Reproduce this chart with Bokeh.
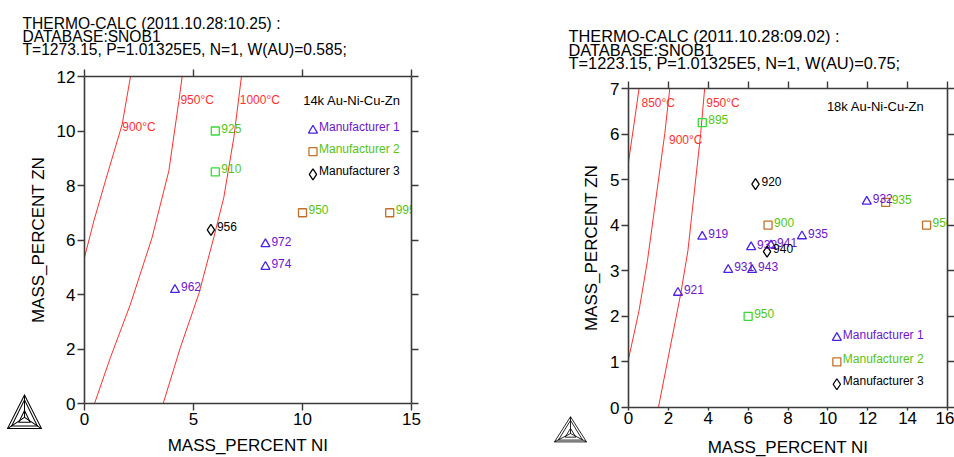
from bokeh.plotting import figure
from bokeh.models import (Range1d, LinearAxis, FixedTicker, Label, ColumnDataSource,
                          Title, Div, Spacer)
from bokeh.layouts import row, column
from bokeh.core.properties import value
from bokeh.embed import file_html
from bokeh.resources import INLINE

# ---------------- data: left panel (14k) ----------------
L_TITLE = ["THERMO-CALC (2011.10.28:10.25) :", "DATABASE:SNOB1",
           "T=1273.15, P=1.01325E5, N=1, W(AU)=0.585;"]
L_X_TICKS = [0, 5, 10, 15]
L_Y_TICKS = [0, 2, 4, 6, 8, 10, 12]
L_M1_NI = [4.15, 8.3, 8.3]
L_M1_ZN = [4.17, 5.85, 5.02]
L_M1_LBL = ["962", "972", "974"]
L_M2_NI = [6.0, 6.0, 10.0, 14.0]
L_M2_ZN = [10.0, 8.5, 7.0, 7.0]
L_M2_LBL = ["925", "910", "950", "995"]
L_M3_NI = [5.8]
L_M3_ZN = [6.37]
L_M3_LBL = ["956"]
L_ISO_LBL = ["900°C", "950°C", "1000°C"]
L_ISO900_NI = [0.0, 0.43, 0.96, 1.73, 2.11]
L_ISO900_ZN = [5.36, 6.7, 8.17, 10.25, 12.0]
L_ISO950_NI = [0.46, 1.19, 2.11, 3.10, 3.87, 4.33, 4.48]
L_ISO950_ZN = [0.0, 1.69, 3.65, 6.09, 8.54, 11.11, 12.0]
L_ISO1000_NI = [3.61, 4.40, 5.24, 5.93, 6.39, 6.85, 7.2]
L_ISO1000_ZN = [0.0, 2.06, 4.01, 6.09, 7.56, 9.76, 12.0]

# ---------------- data: right panel (18k) ----------------
R_TITLE = ["THERMO-CALC (2011.10.28:09.02) :", "DATABASE:SNOB1",
           "T=1223.15, P=1.01325E5, N=1, W(AU)=0.75;"]
R_X_TICKS = [0, 2, 4, 6, 8, 10, 12, 14, 16]
R_Y_TICKS = [0, 1, 2, 3, 4, 5, 6, 7]
R_M1_NI = [3.7, 6.15, 7.15, 8.7, 11.95, 5.0, 6.2, 2.48]
R_M1_ZN = [3.75, 3.52, 3.56, 3.76, 4.52, 3.02, 3.02, 2.52]
R_M1_LBL = ["919", "932", "941", "935", "932", "931", "943", "921"]
R_M2_NI = [3.7, 7.0, 12.9, 14.95, 6.0]
R_M2_ZN = [6.25, 4.0, 4.5, 4.0, 2.0]
R_M2_LBL = ["895", "900", "935", "950", "950"]
R_M3_NI = [6.37, 6.95]
R_M3_ZN = [4.9, 3.42]
R_M3_LBL = ["920", "940"]
R_ISO_LBL = ["850°C", "900°C", "950°C"]
R_ISO850_NI = [0.0, 0.27, 0.53]
R_ISO850_ZN = [5.39, 6.2, 7.0]
R_ISO900_NI = [0.0, 0.53, 0.95, 1.82, 2.07]
R_ISO900_ZN = [1.06, 2.13, 3.22, 6.01, 7.0]
R_ISO950_NI = [1.5, 2.62, 2.98, 3.62, 3.82]
R_ISO950_ZN = [0.0, 2.5, 3.44, 6.01, 7.0]

LEGEND = ["Manufacturer 1", "Manufacturer 2", "Manufacturer 3"]

# ---------------- styles ----------------
FONT = "Liberation Sans"
C1_MARK = "#4a22e6"
C1_TEXT = "#6c16cc"
C2_TEXT = "#55c412"
GREEN_SQ = "#33dd33"
BROWN_SQ = "#c0702a"
C3 = "#000000"
RED = "#ff3030"
AXIS_C = "#3a3a3a"

L_M2_EDGE = [GREEN_SQ, GREEN_SQ, BROWN_SQ, BROWN_SQ]
R_M2_EDGE = [GREEN_SQ, BROWN_SQ, BROWN_SQ, BROWN_SQ, GREEN_SQ]


def logo_svg(w, h):
    return ('<svg xmlns="http://www.w3.org/2000/svg" width="%d" height="%d" '
            'viewBox="0 0 34 37" preserveAspectRatio="none" style="display:block">'
            '<g fill="none" stroke="black" stroke-width="1">'
            '<polygon points="17,1 0.5,35.5 33.5,35.5"/>'
            '<polygon points="17,6 4.5,33 29.5,33"/>'
            '<polygon points="17,17 11.5,29 22.5,29"/>'
            '<polyline points="0.5,35.5 17,24 33.5,35.5"/>'
            '<line x1="17" y1="1" x2="17" y2="24"/></g></svg>' % (w, h))


def style_axis(ax, ticks, show_labels, standoff=2, tick_out=7):
    ax.ticker = FixedTicker(ticks=ticks)
    ax.axis_line_color = AXIS_C
    ax.axis_line_width = 1.6
    ax.major_tick_line_color = AXIS_C
    ax.major_tick_line_width = 1.4
    ax.major_tick_out = tick_out
    ax.major_tick_in = 0
    ax.minor_tick_line_color = None
    ax.major_label_text_font = FONT
    if show_labels:
        ax.major_label_text_color = "black"
        ax.major_label_text_font_size = "17px"
        ax.major_label_standoff = standoff
    else:
        ax.major_label_text_color = None
        ax.major_label_standoff = 0
    ax.axis_label_text_font = FONT
    ax.axis_label_text_font_size = "17px"
    ax.axis_label_text_font_style = "normal"
    ax.axis_label_text_color = "black"


def panel(width, height, xr, yr, xt, yt, borders, title, title_off, title_size, lh,
          title_standoff, xaxis_cfg, m1, m2, m3, m2_edge, isos, iso_lbl_pos,
          iso_lbls, alloy, alloy_pos, leg_pos):
    bl, br, bt, bb = borders
    p = figure(width=width, height=height, x_range=Range1d(*xr), y_range=Range1d(*yr),
               output_backend="svg", toolbar_location=None, title_location=None,
               min_border_left=bl, min_border_right=br, min_border_top=bt,
               min_border_bottom=bb)
    p.grid.visible = False
    p.outline_line_color = None
    p.background_fill_color = "white"
    p.border_fill_color = "white"
    style_axis(p.xaxis[0], xt, True, xaxis_cfg[0], xaxis_cfg[2])
    style_axis(p.yaxis[0], yt, True, 2)
    p.xaxis[0].axis_label = "MASS_PERCENT NI"
    p.yaxis[0].axis_label = "MASS_PERCENT ZN"
    p.xaxis[0].axis_label_standoff = xaxis_cfg[1]
    p.yaxis[0].axis_label_standoff = 6
    top = LinearAxis()
    style_axis(top, xt, False)
    p.add_layout(top, "above")
    rgt = LinearAxis()
    style_axis(rgt, yt, False)
    p.add_layout(rgt, "right")

    # header (three lines)
    p.add_layout(Title(text="\n".join(title), align="left", offset=title_off,
                       standoff=title_standoff, text_font=FONT,
                       text_font_size=title_size, text_font_style="normal",
                       text_color="black", text_line_height=lh), "above")

    # isotherms
    for (xs, ys) in isos:
        p.line(xs, ys, line_color=RED, line_width=1)
    for (lx, ly), t in zip(iso_lbl_pos, iso_lbls):
        p.add_layout(Label(x=lx, y=ly, text=t, text_font=FONT, text_font_size="12px",
                           text_color=RED, text_baseline="middle"))

    # points
    s1 = ColumnDataSource(dict(x=m1[0], y=m1[1], t=m1[2]))
    s2 = ColumnDataSource(dict(x=m2[0], y=m2[1], t=m2[2], c=m2_edge))
    s3 = ColumnDataSource(dict(x=m3[0], y=m3[1], t=m3[2]))
    p.scatter("x", "y", source=s1, marker="triangle", size=9, fill_color=None,
              line_color=C1_MARK, line_width=1.3)
    p.scatter("x", "y", source=s2, marker="square", size=8, fill_color=None,
              line_color="c", line_width=1.3)
    p.scatter("x", "y", source=s3, marker="diamond", size=11, fill_color=None,
              line_color=C3, line_width=1.3)
    for s, col in ((s1, C1_TEXT), (s2, C2_TEXT), (s3, C3)):
        p.text("x", "y", text="t", source=s, text_font_size="12px", text_color=col,
               text_baseline="middle", x_offset=6, y_offset=-3, text_font=value(FONT))

    # legend drawn as in the original (markers + text inside the frame)
    lx, ly = leg_pos
    p.scatter([lx], [ly[0]], marker="triangle", size=9, fill_color=None,
              line_color=C1_MARK, line_width=1.3)
    p.scatter([lx], [ly[1]], marker="square", size=8, fill_color=None,
              line_color=BROWN_SQ, line_width=1.3)
    p.scatter([lx], [ly[2]], marker="diamond", size=11, fill_color=None,
              line_color=C3, line_width=1.3)
    for yy, t, col in zip(ly, LEGEND, (C1_TEXT, C2_TEXT, C3)):
        p.text([lx], [yy], text=[t], text_font_size="12px", text_color=col,
               text_baseline="middle", x_offset=6, y_offset=-3, text_font=value(FONT))

    p.add_layout(Label(x=alloy_pos[0], y=alloy_pos[1], text=alloy, text_font=FONT,
                       text_font_size="13px", text_color="black", text_baseline="middle"))
    return p


left = panel(540, 457, (0, 15), (0, 12), L_X_TICKS, L_Y_TICKS, (84, 129, 76, 54),
             L_TITLE, -62, "15.6px", 0.78, 22, (2, 8, 7),
             (L_M1_NI, L_M1_ZN, L_M1_LBL), (L_M2_NI, L_M2_ZN, L_M2_LBL),
             (L_M3_NI, L_M3_ZN, L_M3_LBL), L_M2_EDGE,
             [(L_ISO900_NI, L_ISO900_ZN), (L_ISO950_NI, L_ISO950_ZN),
              (L_ISO1000_NI, L_ISO1000_ZN)],
             [(1.73, 10.13), (4.4, 11.13), (7.12, 11.13)], L_ISO_LBL,
             "14k Au-Ni-Cu-Zn", (10.03, 11.13), (10.48, [10.02, 9.24, 8.41]))

right = panel(414, 449, (0, 16), (0, 7), R_X_TICKS, R_Y_TICKS, (88, 7, 76, 54),
              R_TITLE, -60, "16.4px", 0.74, 19, (1, 11, 3),
              (R_M1_NI, R_M1_ZN, R_M1_LBL), (R_M2_NI, R_M2_ZN, R_M2_LBL),
              (R_M3_NI, R_M3_ZN, R_M3_LBL), R_M2_EDGE,
              [(R_ISO850_NI, R_ISO850_ZN), (R_ISO900_NI, R_ISO900_ZN),
               (R_ISO950_NI, R_ISO950_ZN)],
              [(0.65, 6.68), (2.03, 5.88), (3.9, 6.68)], R_ISO_LBL,
              "18k Au-Ni-Cu-Zn", (9.95, 6.61), (10.45, [1.53, 1.0, 0.51]))

logo_l = Div(text=logo_svg(35, 36), width=35, height=36, margin=(-63, 0, 0, 7))
logo_r = Div(text=logo_svg(33, 27), width=33, height=27, margin=(-45, 0, 0, 14))

lay = row(column(left, logo_l), column(Spacer(width=414, height=12), right, logo_r))
open("out.html", "w").write(file_html(lay, INLINE))
